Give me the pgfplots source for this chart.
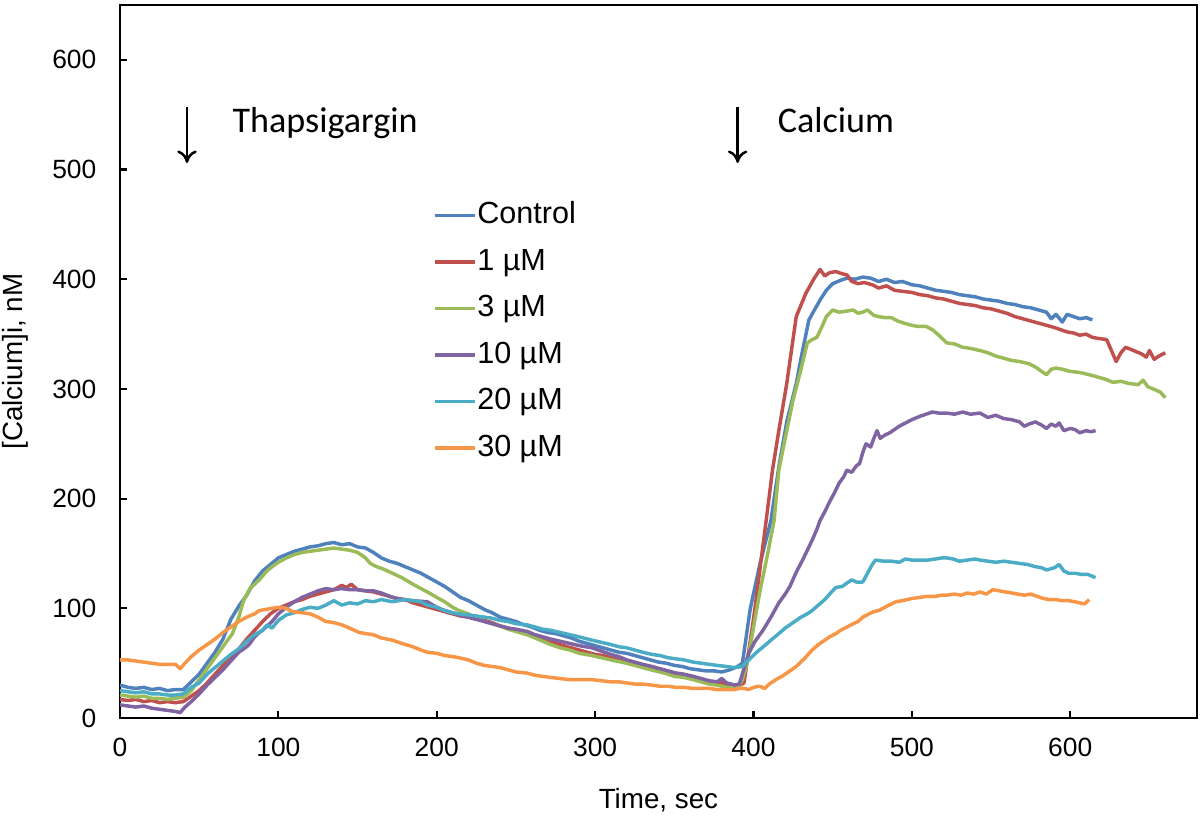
\documentclass[border=0pt]{standalone}
\usepackage{fontspec}
\setmainfont{Liberation Sans}
\newfontfamily\calibri{Carlito}
\usepackage{pgfplots}
\pgfplotsset{compat=1.18}
\usetikzlibrary{arrows.meta}

\definecolor{cblue}{HTML}{4F81BD}
\definecolor{cred}{HTML}{C0504D}
\definecolor{cgreen}{HTML}{9BBB59}
\definecolor{cpurple}{HTML}{8064A2}
\definecolor{ccyan}{HTML}{4BACC6}
\definecolor{corange}{HTML}{F79646}

\begin{document}
\begin{tikzpicture}
\begin{axis}[
    scale only axis, width=387.7pt, height=256.7pt,
    xmin=0, xmax=680, ymin=0, ymax=650,
    xtick={0,100,...,600}, ytick={0,100,...,600},
    tick align=inside, xtick pos=bottom, ytick pos=left,
    major tick length=2.5pt,
    axis line style={line width=0.9pt},
    every tick/.style={black, line width=0.8pt},
    tick label style={font=\fontsize{9.5}{11}\selectfont},
    /pgf/number format/assume math mode=true,
    xticklabel style={yshift=-3.5pt},
    yticklabel style={xshift=-5pt},
    xlabel={Time, sec}, ylabel={[Calcium]i, nM},
    label style={font=\fontsize{10}{12}\selectfont},
    xlabel style={at={(axis description cs:0.5,-0.115)}, anchor=center},
    ylabel style={at={(axis description cs:-0.0975,0.5)}, anchor=center},
    legend cell align=left,
    legend style={at={(axis description cs:0.29,0.7265)}, anchor=north west,
        draw=none, fill=none, inner sep=0pt, row sep=6.15pt,
        font=\fontsize{11}{13}\selectfont,
        nodes={inner sep=0.3pt, text height=8pt, text depth=2pt}},
    legend image code/.code={\draw[#1, line width=1.2pt] (0pt,0pt) -- (14.5pt,0pt);},
    every axis plot/.append style={line width=1.25pt, line join=round},
]
% Control
\addplot[cblue] coordinates {
(0,30)(5,28)(10,27)(15,28)(20,26)(25,27)(30,25)(35,26)(40,26)(45,33)(50,40)(55,50)(60,60)(65,72)(70,90)(75,102)(80,112)(85,125)(90,134)(95,140)(100,146)(105,149)(110,152)(115,154)(120,156)(125,157)(130,159)(135,160)(140,158)(145,159)(150,156)(155,155)(160,151)(165,146)(170,143)(175,141)(180,138)(185,135)(190,132)(195,128)(200,124)(205,120)(210,115)(215,110)(220,107)(225,103)(230,99)(235,96)(240,92)(245,90)(250,88)(255,85)(260,83)(265,80)(270,78)(275,77)(280,75)(285,73)(290,70)(295,68)(300,66)(305,64)(310,62)(315,60)(320,59)(325,57)(330,55)(335,53)(340,51)(345,50)(350,48)(355,47)(360,45)(365,44)(370,43)(375,43)(380,42)(385,44)(390,47)(393,50)(398,100)(404,140)(411,180)(416,229)(421,270)(427,305)(431,335)(435,363)(442,381)(446,390)(450,396)(455,399)(459,401)(464,400)(469,402)(474,401)(479,398)(484,400)(489,397)(494,398)(500,395)(505,394)(510,392)(515,390)(520,389)(525,388)(530,386)(535,385)(540,384)(545,382)(550,381)(555,380)(560,378)(565,377)(570,375)(575,374)(580,372)(585,370)(588,364)(591,368)(595,361)(598,368)(602,366)(606,364)(610,365)(614,363)
};
\addlegendentry{Control}
% 1 uM
\addplot[cred] coordinates {
(0,17)(5,16)(10,17)(15,15)(20,16)(25,14)(30,15)(35,14)(40,15)(45,20)(50,25)(55,32)(60,40)(65,48)(70,55)(75,63)(80,72)(85,80)(90,88)(95,95)(100,100)(105,103)(110,106)(115,108)(120,111)(125,113)(130,115)(135,117)(140,121)(143,119)(146,122)(150,117)(155,116)(160,115)(165,113)(170,111)(175,109)(180,108)(185,105)(190,103)(195,101)(200,99)(205,97)(210,95)(215,93)(220,92)(225,90)(230,89)(235,87)(240,84)(245,82)(250,80)(255,77)(260,75)(265,72)(270,70)(275,68)(280,66)(285,64)(290,62)(295,60)(300,58)(305,57)(310,55)(315,54)(320,52)(325,50)(330,48)(335,46)(340,44)(345,43)(350,41)(355,40)(360,38)(365,36)(370,34)(375,33)(380,32)(385,30)(390,29)(394,32)(400,90)(404,135)(408,180)(412,226)(416,262)(421,305)(427,366)(433,387)(438,400)(442,409)(445,403)(448,406)(452,407)(456,405)(459,404)(462,398)(466,396)(470,397)(475,395)(479,392)(484,394)(489,390)(494,389)(500,388)(505,386)(510,385)(515,383)(520,382)(525,380)(530,378)(535,377)(540,376)(545,374)(550,373)(555,371)(560,369)(565,366)(570,364)(575,362)(580,360)(585,358)(590,356)(594,354)(598,352)(602,351)(606,349)(610,350)(614,347)(618,346)(623,345)(626,335)(629,325)(632,333)(635,338)(640,335)(645,332)(648,329)(650,335)(653,327)(656,330)(660,333)
};
\addlegendentry{1 µM}
% 3 uM
\addplot[cgreen] coordinates {
(0,21)(5,20)(10,19)(15,20)(20,18)(25,18)(30,17)(35,18)(40,19)(45,25)(50,35)(55,45)(60,55)(65,65)(71,77)(75,92)(78,107)(82,118)(88,126)(92,133)(96,138)(100,142)(105,146)(110,149)(115,151)(120,152)(125,153)(130,154)(135,155)(140,154)(145,153)(150,151)(155,146)(158,141)(162,138)(166,136)(172,132)(178,128)(185,122)(190,118)(194,115)(200,110)(205,106)(210,101)(214,98)(220,95)(225,91)(230,88)(235,86)(240,84)(245,81)(250,79)(257,76)(262,73)(267,70)(272,67)(278,64)(284,62)(290,59)(298,57)(304,55)(310,53)(320,50)(325,48)(330,46)(335,44)(341,42)(346,40)(350,38)(356,37)(362,35)(367,33)(372,31)(377,30)(383,28)(390,28)(393,35)(396,50)(404,115)(409,150)(413,180)(416,226)(420,255)(425,290)(430,318)(434,342)(437,345)(440,347)(443,356)(446,366)(450,372)(454,370)(459,371)(463,372)(466,369)(469,370)(472,372)(476,367)(479,366)(483,365)(487,365)(491,362)(495,360)(500,358)(504,357)(509,357)(513,354)(517,349)(522,342)(527,341)(532,338)(537,337)(543,335)(548,333)(553,330)(558,328)(563,326)(568,325)(574,323)(578,320)(582,316)(585,313)(588,318)(591,319)(595,318)(600,316)(606,315)(612,313)(617,311)(622,309)(627,306)(632,307)(637,305)(643,304)(646,308)(649,302)(654,299)(657,297)(660,292)
};
\addlegendentry{3 µM}
% 10 uM
\addplot[cpurple] coordinates {
(0,12)(5,11)(10,10)(15,11)(20,9)(25,8)(30,7)(35,6)(38,5)(41,10)(45,15)(50,22)(55,30)(60,37)(65,44)(70,52)(75,60)(80,65)(82,68)(85,74)(88,78)(90,80)(93,84)(96,88)(100,95)(105,101)(110,106)(115,110)(120,113)(125,116)(130,118)(135,117)(140,118)(145,117)(150,117)(155,116)(160,116)(165,114)(172,110)(178,108)(185,107)(194,106)(200,101)(205,98)(210,96)(214,94)(220,92)(225,90)(230,88)(235,86)(240,84)(245,82)(250,81)(257,79)(262,76)(267,74)(272,72)(278,70)(284,68)(290,66)(298,64)(304,61)(310,58)(315,56)(320,53)(325,51)(330,49)(336,47)(341,45)(346,43)(351,41)(356,40)(362,38)(367,36)(372,34)(377,33)(380,36)(383,32)(386,31)(388,30)(391,31)(394,45)(397,59)(401,70)(406,80)(411,92)(416,105)(420,113)(423,120)(427,133)(431,144)(434,153)(437,162)(440,172)(442,180)(445,188)(448,197)(451,205)(454,214)(457,220)(459,226)(462,224)(465,230)(467,232)(469,242)(471,250)(474,247)(476,255)(478,262)(480,255)(483,258)(486,260)(488,262)(492,266)(496,269)(500,272)(505,275)(509,277)(513,279)(517,278)(522,278)(527,277)(532,279)(537,277)(543,278)(548,274)(553,276)(558,273)(563,272)(568,270)(571,266)(574,268)(578,270)(582,267)(585,264)(588,268)(591,266)(593,269)(596,262)(600,264)(603,263)(606,260)(610,262)(613,261)(616,262)
};
\addlegendentry{10 µM}
% 20 uM
\addplot[ccyan] coordinates {
(0,25)(5,24)(10,23)(15,24)(20,22)(25,22)(30,21)(35,21)(40,22)(45,28)(50,32)(55,40)(60,46)(65,52)(70,58)(75,63)(80,70)(85,76)(90,80)(93,85)(96,82)(100,89)(105,94)(110,96)(115,99)(120,101)(125,100)(130,103)(135,107)(140,103)(145,105)(150,104)(155,107)(160,106)(165,108)(172,106)(180,108)(185,107)(190,106)(194,103)(200,101)(205,98)(210,96)(214,95)(220,94)(225,93)(230,92)(235,91)(240,89)(245,88)(250,86)(257,85)(262,83)(267,81)(272,80)(278,78)(284,76)(290,74)(298,71)(304,69)(310,67)(315,65)(320,64)(325,62)(330,60)(336,58)(341,57)(346,55)(351,54)(356,53)(362,51)(367,50)(372,49)(377,48)(383,47)(388,46)(393,47)(397,53)(402,60)(407,66)(411,71)(416,77)(420,82)(425,87)(430,92)(434,95)(437,98)(441,103)(445,108)(448,113)(452,119)(456,120)(459,123)(462,126)(465,124)(469,124)(472,132)(475,140)(477,144)(482,143)(487,143)(492,142)(496,145)(500,144)(505,144)(510,144)(515,145)(519,146)(522,146)(526,145)(530,143)(535,144)(540,145)(543,144)(548,143)(553,142)(558,143)(563,142)(568,141)(573,140)(578,138)(582,137)(585,135)(590,137)(593,140)(596,134)(599,132)(603,132)(607,131)(611,131)(616,128)
};
\addlegendentry{20 µM}
% 30 uM
\addplot[corange] coordinates {
(0,53)(5,53)(10,52)(15,51)(20,50)(25,49)(30,49)(35,49)(38,45)(41,50)(45,56)(50,62)(55,67)(60,72)(65,78)(70,83)(75,88)(80,92)(85,95)(88,98)(92,99)(96,100)(100,101)(105,100)(109,97)(115,96)(120,95)(125,92)(130,88)(135,87)(140,85)(145,82)(151,78)(155,77)(160,76)(165,73)(172,71)(178,68)(185,65)(190,62)(194,60)(200,59)(205,57)(210,56)(214,55)(220,53)(225,50)(230,48)(235,47)(240,46)(245,44)(250,42)(257,41)(262,39)(267,38)(272,37)(278,36)(284,35)(290,35)(298,35)(304,34)(310,33)(315,33)(320,32)(325,31)(330,31)(336,30)(341,29)(346,29)(351,28)(356,28)(362,27)(367,27)(372,27)(377,26)(383,26)(388,26)(391,27)(394,27)(397,26)(400,28)(404,29)(407,27)(410,31)(414,35)(418,38)(422,42)(427,47)(432,54)(437,62)(441,67)(444,70)(448,74)(452,77)(455,80)(459,83)(463,86)(466,88)(469,92)(473,95)(476,97)(479,98)(483,101)(487,104)(490,106)(494,107)(497,108)(500,109)(505,110)(510,111)(515,111)(519,112)(522,112)(527,113)(531,112)(535,114)(539,113)(543,115)(547,113)(551,117)(555,116)(559,115)(563,114)(567,113)(571,112)(575,113)(579,111)(583,109)(587,108)(591,108)(595,107)(599,107)(603,106)(606,105)(609,104)(612,108)
};
\addlegendentry{30 µM}

% annotations
\draw[line width=0.9pt, -{To[length=4.5pt,width=7pt]}] (axis cs:42.3,557) -- (axis cs:42.3,506);
\node[anchor=base west, inner sep=0pt, font=\calibri\fontsize{13}{15}\selectfont] at (axis cs:70.7,534) {Thapsigargin};
\draw[line width=0.9pt, -{To[length=4.5pt,width=7pt]}] (axis cs:390,557) -- (axis cs:390,506);
\node[anchor=base west, inner sep=0pt, font=\calibri\fontsize{13}{15}\selectfont] at (axis cs:415,534) {Calcium};
\end{axis}
\pgfresetboundingbox
\path[use as bounding box] ([shift={(-43.2pt,-38.9pt)}]current axis.south west) rectangle ++(432pt,297.4pt);
\end{tikzpicture}
\end{document}
